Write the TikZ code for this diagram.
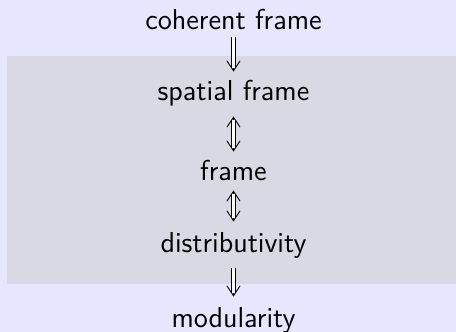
\documentclass[tikz,border=0pt]{standalone}
\usetikzlibrary{arrows.meta}
\definecolor{pagebg}{RGB}{230,230,255}
\definecolor{blockbg}{RGB}{217,217,227}
\begin{document}
\begin{tikzpicture}[x=0.5pt,y=-0.5pt,
  lbl/.style={font=\sffamily\fontsize{14.4}{17}\selectfont, inner sep=0pt,
    text height=8pt, text depth=0pt, anchor=base},
  barb/.tip={Straight Barb[length=5pt, width=6.6pt]},
  % open arrow heads, drawn first
  headline/.style={line width=0.45pt},
  % hollow shaft drawn on top, hiding the centre line
  shaft/.style={double=white, double distance=1.5pt, line width=0.45pt}]
  % page and grey block
  \fill[pagebg] (0,0) rectangle (456,332);
  \fill[blockbg] (7,56) rectangle (456,284);
  % statements
  \node[lbl] (coh) at (233.5,29) {coherent frame};
  \node[lbl] (spa) at (233.5,100) {spatial frame};
  \node[lbl] (frm) at (233.5,180) {frame};
  \node[lbl] (dis) at (233.5,252) {distributivity};
  \node[lbl] (mod) at (233.5,327) {modularity};
  % implications
  \draw[headline, -barb, shorten <=4pt, shorten >=6pt] (coh.south) -- (spa.north);
  \draw[shaft, shorten <=4pt, shorten >=8pt] (coh.south) -- (spa.north);
  \draw[headline, barb-barb, shorten <=8pt, shorten >=6pt] (spa.south) -- (frm.north);
  \draw[shaft, shorten <=10pt, shorten >=8pt] (spa.south) -- (frm.north);
  \draw[headline, barb-barb, shorten <=5pt, shorten >=7pt] (frm.south) -- (dis.north);
  \draw[shaft, shorten <=7pt, shorten >=9pt] (frm.south) -- (dis.north);
  \draw[headline, -barb, shorten <=8pt, shorten >=7pt] (dis.south) -- (mod.north);
  \draw[shaft, shorten <=8pt, shorten >=9pt] (dis.south) -- (mod.north);
\end{tikzpicture}
\end{document}
